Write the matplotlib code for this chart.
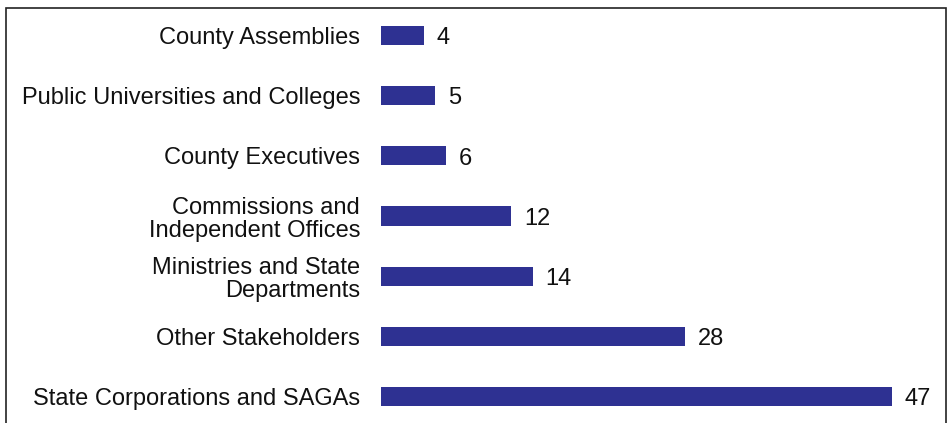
import matplotlib
matplotlib.use("Agg")
import matplotlib.pyplot as plt
from matplotlib.patches import Rectangle

categories = [
    "County Assemblies",
    "Public Universities and Colleges",
    "County Executives",
    "Commissions and\nIndependent Offices",
    "Ministries and State\nDepartments",
    "Other Stakeholders",
    "State Corporations and SAGAs",
]
values = [4, 5, 6, 12, 14, 28, 47]

plt.rcParams['font.family'] = ['Liberation Sans', 'DejaVu Sans']

W, H = 948, 423
fig = plt.figure(figsize=(W / 100, H / 100), dpi=100)

# axes placement in pixels
x0 = 381
px_per_unit = 10.87
xmax = 50
top_px = 5.4
bot_px = 426.6
ax = fig.add_axes([x0 / W, (H - bot_px) / H, xmax * px_per_unit / W, (bot_px - top_px) / H])

ypos = list(range(len(categories)))
ax.barh(ypos, values, height=0.316, color="#2E3192", zorder=2)
ax.set_xlim(0, xmax)
ax.set_ylim(len(categories) - 0.5, -0.5)

ax.set_yticks(ypos)
ax.set_yticklabels(categories, fontsize=17, ha="right", linespacing=1.1, color="#111111")
ax.tick_params(axis="y", length=0, pad=15)
ax.set_xticks([])
for s in ax.spines.values():
    s.set_visible(False)

for y, v in zip(ypos, values):
    ax.annotate(str(v), xy=(v, y), xytext=(9, -2), textcoords="offset points",
                va="center", ha="left", fontsize=17, color="#111111")

# outer frame (bottom cut off)
fig.add_artist(Rectangle((5.5 / W, -0.05), (946 - 5.5) / W, (H - 8.5) / H + 0.05,
                         transform=fig.transFigure, fill=False,
                         edgecolor="#222222", linewidth=1.2))

fig.savefig("out.png", dpi=100)
